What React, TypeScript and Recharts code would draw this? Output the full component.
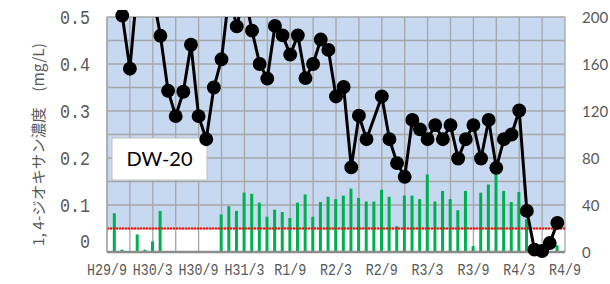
import React from 'react';
import {
  ComposedChart,
  Bar,
  Line,
  XAxis,
  YAxis,
  CartesianGrid,
  ReferenceLine,
  ReferenceArea,
  Label,
} from 'recharts';

// Monthly categories, 2017/9 .. 2022/9 (index = position on the time axis)
const monthLabels = [
  '2017/9', '2017/10', '2017/11', '2017/12', '2018/1', '2018/2', '2018/3', '2018/4', '2018/5', '2018/6',
  '2018/7', '2018/8', '2018/9', '2018/10', '2018/11', '2018/12', '2019/1', '2019/2', '2019/3', '2019/4',
  '2019/5', '2019/6', '2019/7', '2019/8', '2019/9', '2019/10', '2019/11', '2019/12', '2020/1', '2020/2',
  '2020/3', '2020/4', '2020/5', '2020/6', '2020/7', '2020/8', '2020/9', '2020/10', '2020/11', '2020/12',
  '2021/1', '2021/2', '2021/3', '2021/4', '2021/5', '2021/6', '2021/7', '2021/8', '2021/9', '2021/10',
  '2021/11', '2021/12', '2022/1', '2022/2', '2022/3', '2022/4', '2022/5', '2022/6', '2022/7', '2022/8',
  '2022/9',
];

// 1,4-dioxane concentration (mg/L), left axis
const concentration: (number | null)[] = [
  null, null, 0.503, 0.39, 0.57, 0.6, 0.55, 0.46, 0.343, 0.289,
  0.341, 0.441, 0.289, 0.24, 0.35, 0.41, 0.55, 0.48, 0.55, 0.471,
  0.4, 0.369, 0.481, 0.461, 0.42, 0.461, 0.37, 0.4, 0.452, 0.43,
  0.331, 0.351, 0.18, 0.29, 0.24, null, 0.331, 0.24, 0.189, 0.16,
  0.281, 0.261, 0.24, 0.27, 0.24, 0.27, 0.199, 0.24, 0.27, 0.199,
  0.281, 0.179, 0.24, 0.25, 0.301, 0.0875, 0.005, 0.002, 0.019, 0.062,
  null,
];

// Bar series, right axis
const volume: (number | null)[] = [
  null, 33, 2, null, 15, 2, 9, 35, null, null,
  null, null, null, null, null, 32, 39, 35, 50.5, 49.5,
  42, 30, 36, 34, 29, 42, 49, 30, 42.5, 47,
  45, 48, 54, 46, 43, 43, 53, 47, 22, 48,
  48, 45, 66, 43, 52, 45, 35.6, 52, 5, 50.5,
  57.5, 66.5, 52, 42.5, 51, 28, null, null, null, 5.7,
  null,
];

const xTickValues = [0, 6, 12, 18, 24, 30, 36, 42, 48, 54, 60];
const xTickLabels = ['H29/9', 'H30/3', 'H30/9', 'H31/3', 'R1/9', 'R2/3', 'R2/9', 'R3/3', 'R3/9', 'R4/3', 'R4/9'];
const xGridValues = [0, 3, 6, 9, 12, 15, 18, 21, 24, 27, 30, 33, 36, 39, 42, 45, 48, 51, 54, 57, 60];

const leftTicks = [0, 0.1, 0.2, 0.3, 0.4, 0.5];
const leftGridValues = [0, 0.05, 0.1, 0.15, 0.2, 0.25, 0.3, 0.35, 0.4, 0.45, 0.5];
const rightTicks = [0, 40, 80, 120, 160, 200];
const guideline = 0.05;

const data = monthLabels.map((label, i) => ({
  m: i,
  label,
  conc: concentration[i],
  vol: volume[i],
}));

const GREY = '#595959';
const MONO = "'Liberation Mono', 'DejaVu Sans Mono', monospace";

const XTick = (props: any) => {
  const { x, y, payload } = props;
  const idx = xTickValues.indexOf(payload.value);
  const text = idx >= 0 ? xTickLabels[idx] : '';
  return (
    <text
      x={x}
      y={y + 18.5}
      textAnchor="middle"
      dominantBaseline="central"
      fontFamily={MONO}
      fontSize={16}
      fill={GREY}
      textLength={text.length * 8}
      lengthAdjust="spacingAndGlyphs"
    >
      {text}
    </text>
  );
};

const LeftTick = (props: any) => {
  const { x, y, payload } = props;
  const text = String(payload.value);
  const yy = payload.value === 0 ? y - 10 : y + 1;
  return (
    <text
      x={x}
      y={yy}
      textAnchor="end"
      dominantBaseline="central"
      fontFamily={MONO}
      fontSize={21}
      fill={GREY}
      textLength={text.length * 10}
      lengthAdjust="spacingAndGlyphs"
    >
      {text}
    </text>
  );
};

const RightTick = (props: any) => {
  const { x, y, payload } = props;
  return (
    <text
      x={x}
      y={y}
      textAnchor="start"
      dominantBaseline="central"
      fontFamily="Lato, 'Open Sans', sans-serif"
      fontSize={15}
      fill={GREY}
    >
      {String(payload.value)}
    </text>
  );
};

const LeftAxisTitle = (props: any) => {
  const vb = props.viewBox || { x: 0, y: 17, width: 107, height: 235 };
  const cx = vb.x + 37;
  const cy = vb.y + vb.height / 2 + 10;
  return (
    <text
      x={cx}
      y={cy}
      transform={`rotate(-90 ${cx} ${cy})`}
      textAnchor="middle"
      dominantBaseline="central"
      fontFamily="'Noto Sans CJK JP', sans-serif"
      fontSize={15}
      fill={GREY}
      textLength={203}
      lengthAdjust="spacingAndGlyphs"
    >
      1, 4-ジオキサン濃度　(mg/L)
    </text>
  );
};

const stripeFill = ['#C6D9F1', '#C6D9F1', '#C6D9F1', '#C6D9F1', '#C6D9F1', '#C6D9F1', '#C6D9F1', '#C6D9F1', '#C6D9F1', '#FFFFFF'];

export default function App() {
  return (
    <div style={{ position: 'absolute', left: 0, top: 0, width: 610, height: 284, background: '#fff' }}>
      <ComposedChart
        width={610}
        height={284}
        data={data}
        margin={{ top: 17, right: 0, bottom: 0, left: 0 }}
      >
        <CartesianGrid
          yAxisId="left"
          stroke="#A6A6A6"
          strokeWidth={1.3}
          horizontalValues={leftGridValues}
          verticalValues={xGridValues}
          horizontalFill={stripeFill}
          fillOpacity={1}
        />
        <XAxis
          dataKey="m"
          type="number"
          domain={[0, 60]}
          ticks={xTickValues}
          interval={0}
          height={32}
          tickSize={0}
          tickMargin={0}
          tickLine={false}
          axisLine={{ stroke: '#8C8C8C', strokeWidth: 2.5 }}
          tick={<XTick />}
        />
        <YAxis
          yAxisId="left"
          orientation="left"
          domain={[0, 0.5]}
          allowDataOverflow
          ticks={leftTicks}
          interval={0}
          width={107}
          tickSize={0}
          tickMargin={17}
          tickLine={false}
          axisLine={{ stroke: '#A6A6A6', strokeWidth: 1.3 }}
          tick={<LeftTick />}
        >
          <Label content={<LeftAxisTitle />} />
        </YAxis>
        <YAxis
          yAxisId="right"
          orientation="right"
          domain={[0, 200]}
          allowDataOverflow
          ticks={rightTicks}
          interval={0}
          width={45}
          tickSize={0}
          tickMargin={17}
          tickLine={false}
          axisLine={false}
          tick={<RightTick />}
        />
        <ReferenceArea
          yAxisId="left"
          x1={0.66}
          x2={13.1}
          y1={0.153}
          y2={0.2426}
          fill="#FFFFFF"
          fillOpacity={1}
          stroke="#BFBFBF"
          strokeWidth={1}
        >
          <Label value="DW-20" position="center" fontSize={20} fill="#000" fontFamily="Lato, 'Open Sans', sans-serif" />
        </ReferenceArea>
        <ReferenceLine
          yAxisId="left"
          y={guideline}
          stroke="#FF0000"
          strokeWidth={2}
          strokeDasharray="2 1"
        />
        <Bar
          yAxisId="right"
          dataKey="vol"
          fill="#00B050"
          barSize={3}
          isAnimationActive={false}
        />
        <Line
          yAxisId="left"
          dataKey="conc"
          type="linear"
          stroke="#000"
          strokeWidth={3}
          connectNulls
          dot={{ r: 6.2, fill: '#000', stroke: '#000', strokeWidth: 1.5, clipDot: false }}
          activeDot={false}
          isAnimationActive={false}
        />
      </ComposedChart>
    </div>
  );
}
